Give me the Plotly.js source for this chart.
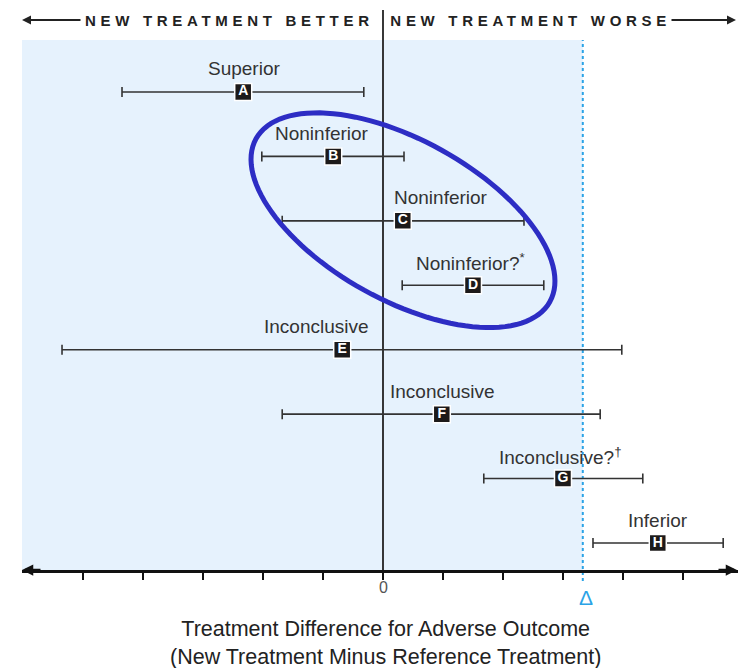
<!DOCTYPE html>
<html><head><meta charset="utf-8">
<script src="https://cdn.plot.ly/plotly-3.0.1.min.js"></script>
<style>body{margin:0;background:#fff}</style>
</head><body>
<div id="chart" style="width:740px;height:668px"></div>
<script>
// ---- data ----
const letters = ['A','B','C','D','E','F','G','H'];
const verdicts = ['Superior','Noninferior','Noninferior','Noninferior?<sup>*</sup>','Inconclusive','Inconclusive','Inconclusive?<sup>†</sup>','Inferior'];
const estimate = [-2.33, -0.83, 0.33, 1.50, -0.68, 0.98, 3.00, 4.58];
const lower    = [-4.35, -2.02, -1.68, 0.32, -5.35, -1.68, 1.68, 3.50];
const upper    = [-0.32,  0.35,  2.35, 2.68,  3.98,  3.62, 4.33, 5.67];
const delta = 3.33;
const tickValues = [-5,-4,-3,-2,-1,0,1,2,3,4,5];
const zeroLabel = '0';
const deltaLabel = 'Δ';
const headerLeft = 'NEW TREATMENT BETTER';
const headerRight = 'NEW TREATMENT WORSE';
const axisTitle = 'Treatment Difference for Adverse Outcome<br>(New Treatment Minus Reference Treatment)';

// ---- layout / style ----
const W = 740, H = 668;
const M = {l:22, r:2, t:40, b:98};
const xRange = [-6.017, 5.917];
const yRange = [8.419, 0.193];  // reversed: row 1 on top
const plotW = W - M.l - M.r, plotH = H - M.t - M.b;
const pxPerX = plotW / (xRange[1] - xRange[0]);
const pxPerY = plotH / (yRange[0] - yRange[1]);
const labelShiftPx = [1, -11, 38, -2, -26, 1, -2, 0];
const rows = letters.map((_, i) => i + 1);
const font = 'Liberation Sans, Arial, sans-serif';

// ellipse (pixel semi-axes, rotation) around a data centre
const ell = {cx: 0.333, cy: 2.99, a: 168, b: 80, deg: 29};
function ellipsePath(e) {
  const th = e.deg * Math.PI / 180, n = 120;
  let d = '';
  for (let k = 0; k <= n; k++) {
    const t = 2 * Math.PI * k / n;
    const u = e.a * Math.cos(t), v = e.b * Math.sin(t);
    const dx = u * Math.cos(th) - v * Math.sin(th);
    const dy = u * Math.sin(th) + v * Math.cos(th);
    d += (k ? 'L' : 'M') + (e.cx + dx / pxPerX).toFixed(4) + ',' + (e.cy + dy / pxPerY).toFixed(4);
  }
  return d + 'Z';
}
const pxToPaperX = px => (px - M.l) / plotW;
const pxToPaperY = py => (H - M.b - py) / plotH;

const trace = {
  x: estimate, y: rows, mode: 'markers+text', type: 'scatter',
  text: letters, textposition: 'middle center',
  textfont: {family: 'Liberation Sans, Arial, sans-serif', size: 14, color: '#ffffff', weight: 'bold'},
  marker: {symbol: 'square', size: 17, color: '#1c1a1a', line: {color: '#ffffff', width: 1.5}},
  error_x: {type: 'data', symmetric: false,
    array: upper.map((u, i) => u - estimate[i]),
    arrayminus: lower.map((l, i) => estimate[i] - l),
    color: '#333333', thickness: 1.6, width: 5},
  hoverinfo: 'skip', showlegend: false, cliponaxis: false
};

const annotations = [];
letters.forEach((L, i) => {
  annotations.push({x: estimate[i], y: rows[i], xref: 'x', yref: 'y', text: verdicts[i],
    showarrow: false, xshift: labelShiftPx[i], yshift: 23,
    font: {family: font, size: 19, color: '#333333'}});
});
// header text
annotations.push({x: pxToPaperX(229.5), y: pxToPaperY(20), xref: 'paper', yref: 'paper', text: headerLeft,
  showarrow: false, xanchor: 'center', yanchor: 'middle', font: {family: font, size: 15, color: '#222222', weight: 'bold'}});
annotations.push({x: pxToPaperX(530.5), y: pxToPaperY(20), xref: 'paper', yref: 'paper', text: headerRight,
  showarrow: false, xanchor: 'center', yanchor: 'middle', font: {family: font, size: 15, color: '#222222', weight: 'bold'}});
// header arrows
annotations.push({x: pxToPaperX(22), y: pxToPaperY(20), xref: 'paper', yref: 'paper', text: '',
  showarrow: true, ax: 60, ay: 0, arrowhead: 2, arrowsize: 0.9, arrowwidth: 2, arrowcolor: '#222222'});
annotations.push({x: pxToPaperX(736), y: pxToPaperY(20), xref: 'paper', yref: 'paper', text: '',
  showarrow: true, ax: -66, ay: 0, arrowhead: 2, arrowsize: 0.9, arrowwidth: 2, arrowcolor: '#222222'});
// axis arrows
annotations.push({x: 0, y: 0, xref: 'paper', yref: 'paper', text: '',
  showarrow: true, ax: 20, ay: 0, arrowhead: 2, arrowsize: 0.9, arrowwidth: 2.5, arrowcolor: '#111111'});
annotations.push({x: pxToPaperX(737), y: 0, xref: 'paper', yref: 'paper', text: '',
  showarrow: true, ax: -20, ay: 0, arrowhead: 2, arrowsize: 0.9, arrowwidth: 2.5, arrowcolor: '#111111'});
// zero tick label
annotations.push({x: 0, y: pxToPaperY(587), xref: 'x', yref: 'paper', text: zeroLabel, showarrow: false,
  yanchor: 'middle', font: {family: font, size: 16, color: '#555555'}});
// delta label
annotations.push({x: delta, y: pxToPaperY(597), xref: 'x', yref: 'paper', text: deltaLabel, showarrow: false,
  xshift: 3, yanchor: 'middle', font: {family: font, size: 21, color: '#2ba3e6'}});
// axis title
annotations.push({x: 0, y: pxToPaperY(643), xref: 'x', yref: 'paper', text: axisTitle, showarrow: false,
  xshift: 2, yanchor: 'middle', font: {family: font, size: 21.5, color: '#222222'}});

const shapes = [
  {type: 'rect', xref: 'x', yref: 'paper', x0: xRange[0], x1: delta, y0: 0, y1: 1,
    fillcolor: '#e6f2fd', line: {width: 0}, layer: 'below'},
  {type: 'line', xref: 'x', yref: 'paper', x0: 0, x1: 0, y0: 0, y1: pxToPaperY(10),
    line: {color: '#222222', width: 1.8}, layer: 'below'},
  {type: 'line', xref: 'x', yref: 'paper', x0: delta, x1: delta, y0: pxToPaperY(581), y1: 1,
    line: {color: '#2ba3e6', width: 2, dash: 'dot'}, layer: 'below'},
  {type: 'path', xref: 'x', yref: 'y', path: ellipsePath(ell),
    line: {color: '#2d2dc4', width: 5}, fillcolor: 'rgba(0,0,0,0)', layer: 'above'}
];

const layout = {
  width: W, height: H, margin: M,
  paper_bgcolor: '#ffffff', plot_bgcolor: 'rgba(0,0,0,0)',
  showlegend: false, hovermode: false,
  xaxis: {range: xRange, showgrid: false, zeroline: false, showline: true, linecolor: '#111111', linewidth: 2.5,
    ticks: 'outside', ticklen: 7, tickwidth: 1.5, tickcolor: '#111111',
    tickvals: tickValues, showticklabels: false, fixedrange: true},
  yaxis: {range: yRange, visible: false, fixedrange: true},
  shapes: shapes, annotations: annotations
};

Plotly.newPlot('chart', [trace], layout, {displayModeBar: false, staticPlot: true}).then(gd => {
  gd.querySelectorAll('.annotation-text').forEach(t => {
    if (t.textContent.indexOf('NEW TREATMENT') === 0) t.style.letterSpacing = '4.7px';
  });
});
</script>
</body></html>
